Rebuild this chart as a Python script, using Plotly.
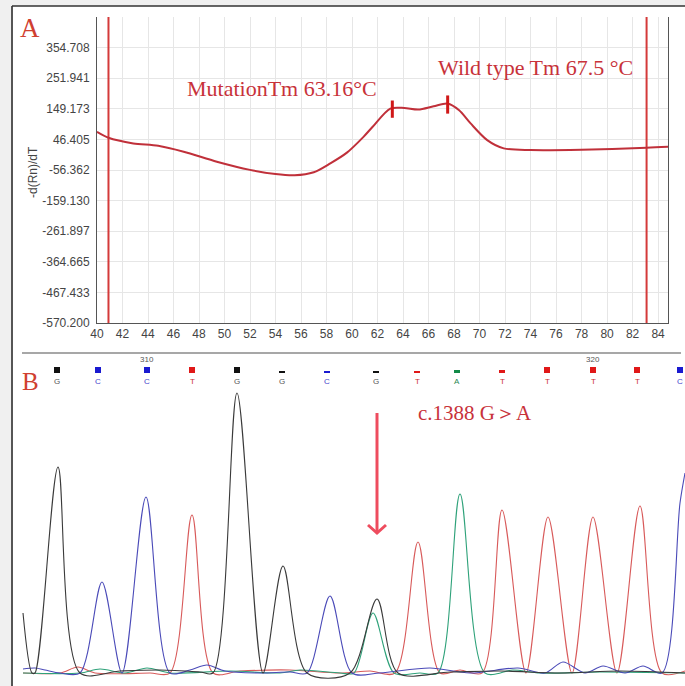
import plotly.graph_objects as go

W, H = 685, 686

# ---------------- Panel A: melt curve data ----------------
temps = [40.0, 40.9, 42.85, 44.8, 46.8, 49.4, 52.0, 54.0, 55.5, 57.0, 58.3, 59.6,
         60.9, 61.6, 63.0, 64.1, 65.2, 66.4, 67.5, 68.4, 69.3, 70.6, 71.9, 74.0,
         78.0, 83.1, 84.8]
dfdt = [71.8, 51.8, 33, 25, 5, -28.5, -56, -70, -74, -64, -34, 2,
        55, 88, 150, 152, 146.7, 157.7, 166.7, 144, 100, 44, 16.3, 10.6,
        11.6, 18.3, 21.7]
x_ticks = list(range(40, 85, 2))
y_ticks = [354.708, 251.941, 149.173, 46.405, -56.362, -159.130, -261.897,
           -364.665, -467.433, -570.200]
y_ticklabels = ["354.708", "251.941", "149.173", "46.405", "-56.362", "-159.130",
                "-261.897", "-364.665", "-467.433", "-570.200"]
y_range = [-570.200, 457.476]
x_range = [40, 84.78]
bound_lines = [40.9, 83.1]
tm_mut, tm_wt = 63.16, 67.5
tm_mut_seg = [119, 177]
tm_wt_seg = [133, 194]

# ---------------- Panel B: chromatogram data ----------------
bases = list("GCCTGGCGTATTTTC")
base_pos = [57, 98, 147, 192, 237, 282, 327, 376, 417, 457, 502, 547, 593, 637, 680]
base_qual = [6, 6, 6, 6, 6, 2, 2, 2, 2, 3, 3, 6, 6, 6, 6]
pos_labels = {2: "310", 12: "320"}

g_x = [23, 32, 35, 58, 80, 120, 160, 200, 213, 237, 263, 283, 307, 350, 377, 398, 450, 500, 560, 620, 685]
g_y = [60, 0, 0, 206, 0, 2, 3, 1, 0, 280, 0, 107, 0, 0, 74, 0, 1, 2, 0, 2, 0]
c_x = [23, 35, 45, 60, 80, 102, 122, 146, 170, 190, 207, 225, 260, 290, 307, 330, 352, 380, 430, 470, 518, 545, 563, 585, 603, 625, 643, 662, 680, 685]
c_y = [4, 5, 3, 0, 0, 91, 0, 176, 0, 3, 8, 2, 0, 1, 0, 77, 0, 0, 5, 0, 5, 0, 11, 0, 7, 0, 7, 0, 170, 200]
t_x = [23, 60, 78, 95, 150, 170, 192, 213, 240, 290, 340, 370, 395, 418, 440, 460, 482, 502, 526, 548, 572, 593, 617, 640, 662, 685]
t_y = [0, 0, 6, 0, 0, 0, 158, 0, 2, 3, 0, 2, 0, 131, 0, 3, 0, 163, 0, 156, 0, 156, 0, 167, 0, 2]
a_x = [23, 80, 100, 125, 147, 170, 230, 280, 300, 340, 354, 373, 394, 420, 438, 460, 485, 513, 540, 600, 685]
a_y = [0, 0, 4, 0, 5, 0, 2, 0, 3, 0, 0, 60, 0, 0, 0, 179, 0, 3, 0, 1, 0]

variant_idx = 7
arrow_top, arrow_tip = 260, 140

RED = "#c8323a"
BASE_COL = {"G": "#111111", "C": "#1a1ad0", "T": "#e01818", "A": "#128a48"}
LET_COL = {"G": "#555555", "C": "#4444cc", "T": "#cc3333", "A": "#2a8a55"}
TRACE_COL = {"G": "#3a3a3a", "C": "#4a4ab8", "T": "#d85a5a", "A": "#2fa27a"}

fig = go.Figure()

# Panel A traces
for bx in bound_lines:
    fig.add_trace(go.Scatter(x=[bx, bx], y=y_range, mode="lines",
                             line=dict(color="#d43a3a", width=2),
                             xaxis="x", yaxis="y", hoverinfo="skip"))
fig.add_trace(go.Scatter(x=temps, y=dfdt, mode="lines",
                         line=dict(color="#c0303a", width=2, shape="spline", smoothing=0.8),
                         xaxis="x", yaxis="y"))
for tx, seg in [(tm_mut, tm_mut_seg), (tm_wt, tm_wt_seg)]:
    fig.add_trace(go.Scatter(x=[tx, tx], y=seg, mode="lines",
                             line=dict(color="#d01818", width=3),
                             xaxis="x", yaxis="y", hoverinfo="skip"))

# Panel B traces
for key, xs, ys in [("T", t_x, t_y), ("A", a_x, a_y), ("C", c_x, c_y), ("G", g_x, g_y)]:
    fig.add_trace(go.Scatter(x=xs, y=ys, mode="lines",
                             line=dict(color=TRACE_COL[key], width=1.1, shape="spline", smoothing=0.85),
                             xaxis="x2", yaxis="y2"))

fig.add_trace(go.Bar(x=base_pos, y=base_qual, base=300, width=6,
                     marker=dict(color=[BASE_COL[b] for b in bases], line=dict(width=0)),
                     xaxis="x2", yaxis="y2"))

vx = base_pos[variant_idx] + 1
fig.add_trace(go.Scatter(x=[vx, vx], y=[arrow_top, arrow_tip], mode="lines",
                         line=dict(color="#ee4c5e", width=3), xaxis="x2", yaxis="y2"))
fig.add_trace(go.Scatter(x=[vx - 9, vx, vx + 9], y=[arrow_tip + 8, arrow_tip, arrow_tip + 8], mode="lines",
                         line=dict(color="#ee4c5e", width=3), xaxis="x2", yaxis="y2"))

annotations = []
for b, p in zip(bases, base_pos):
    annotations.append(dict(x=p, y=292, xref="x2", yref="y2", text=b, showarrow=False,
                            xanchor="center", yanchor="middle",
                            font=dict(family="Liberation Sans", size=8, color=LET_COL[b])))
for i, lab in pos_labels.items():
    annotations.append(dict(x=base_pos[i], y=314, xref="x2", yref="y2", text=lab, showarrow=False,
                            xanchor="center", yanchor="middle",
                            font=dict(family="Liberation Sans", size=8, color="#555")))

annotations += [
    dict(x=30 / W, y=1 - 28 / H, xref="paper", yref="paper", text="A", showarrow=False,
         xanchor="center", yanchor="middle",
         font=dict(family="Liberation Serif", size=27, color="#d04030")),
    dict(x=30 / W, y=1 - 381 / H, xref="paper", yref="paper", text="B", showarrow=False,
         xanchor="center", yanchor="middle",
         font=dict(family="Liberation Serif", size=25, color="#d04030")),
    dict(x=54.5, y=218, xref="x", yref="y", text="MutationTm 63.16°C", showarrow=False,
         xanchor="center", yanchor="middle",
         font=dict(family="Liberation Serif", size=22, color=RED)),
    dict(x=74.4, y=288, xref="x", yref="y", text="Wild type Tm 67.5 °C", showarrow=False,
         xanchor="center", yanchor="middle",
         font=dict(family="Liberation Serif", size=22, color=RED)),
    dict(x=475, y=260, xref="x2", yref="y2", text="c.1388 G＞A", showarrow=False,
         xanchor="center", yanchor="middle",
         font=dict(family="Liberation Serif", size=21, color=RED)),
    dict(x=33 / W, y=1 - 172 / H, xref="paper", yref="paper", text="-d(Rn)/dT", showarrow=False,
         xanchor="center", yanchor="middle",
         textangle=-90, font=dict(family="Liberation Sans", size=12, color="#444")),
]

shapes = [
    dict(type="rect", xref="paper", yref="paper", x0=12 / W, x1=1, y0=0, y1=1 - 6 / H,
         fillcolor="white", line=dict(width=0), layer="below"),
    dict(type="line", xref="paper", yref="paper", x0=12 / W, x1=12 / W, y0=0, y1=1 - 6 / H,
         line=dict(color="#555", width=2)),
    dict(type="line", xref="paper", yref="paper", x0=12 / W, x1=1, y0=1 - 6 / H, y1=1 - 6 / H,
         line=dict(color="#333", width=1.5)),
    dict(type="line", xref="paper", yref="paper", x0=22 / W, x1=681 / W, y0=1 - 353 / H, y1=1 - 353 / H,
         line=dict(color="#8a8a8a", width=1.5)),
]

tickfont = dict(family="Liberation Sans", size=12, color="#444")
fig.update_layout(
    width=W, height=H, margin=dict(l=0, r=0, t=0, b=0, autoexpand=False),
    paper_bgcolor="#f0f0f0", plot_bgcolor="rgba(0,0,0,0)",
    showlegend=False, bargap=0,
    xaxis=dict(domain=[97 / W, 668 / W], range=x_range, tickvals=x_ticks, showgrid=True,
               gridcolor="#e6e6e6", showline=True, linecolor="#555", linewidth=1, ticks="",
               tickfont=tickfont, zeroline=False, anchor="y", automargin=False),
    yaxis=dict(domain=[1 - 323 / H, 1 - 17 / H], range=y_range, tickvals=y_ticks,
               ticktext=y_ticklabels, showgrid=True, gridcolor="#e6e6e6", showline=True,
               mirror=True, linecolor="#555", linewidth=1, ticks="", tickfont=tickfont,
               zeroline=False, anchor="x", ticklabelstandoff=4, automargin=False),
    xaxis2=dict(domain=[0, 1], range=[0, 685], visible=False, anchor="y2"),
    yaxis2=dict(domain=[0, 1 - 350 / H], range=[-13, 323], visible=False, anchor="x2"),
    annotations=annotations, shapes=shapes,
)

fig.write_html("out.html", config={"displayModeBar": False},
               post_script="document.body.style.margin='0';document.body.style.overflow='hidden';")
